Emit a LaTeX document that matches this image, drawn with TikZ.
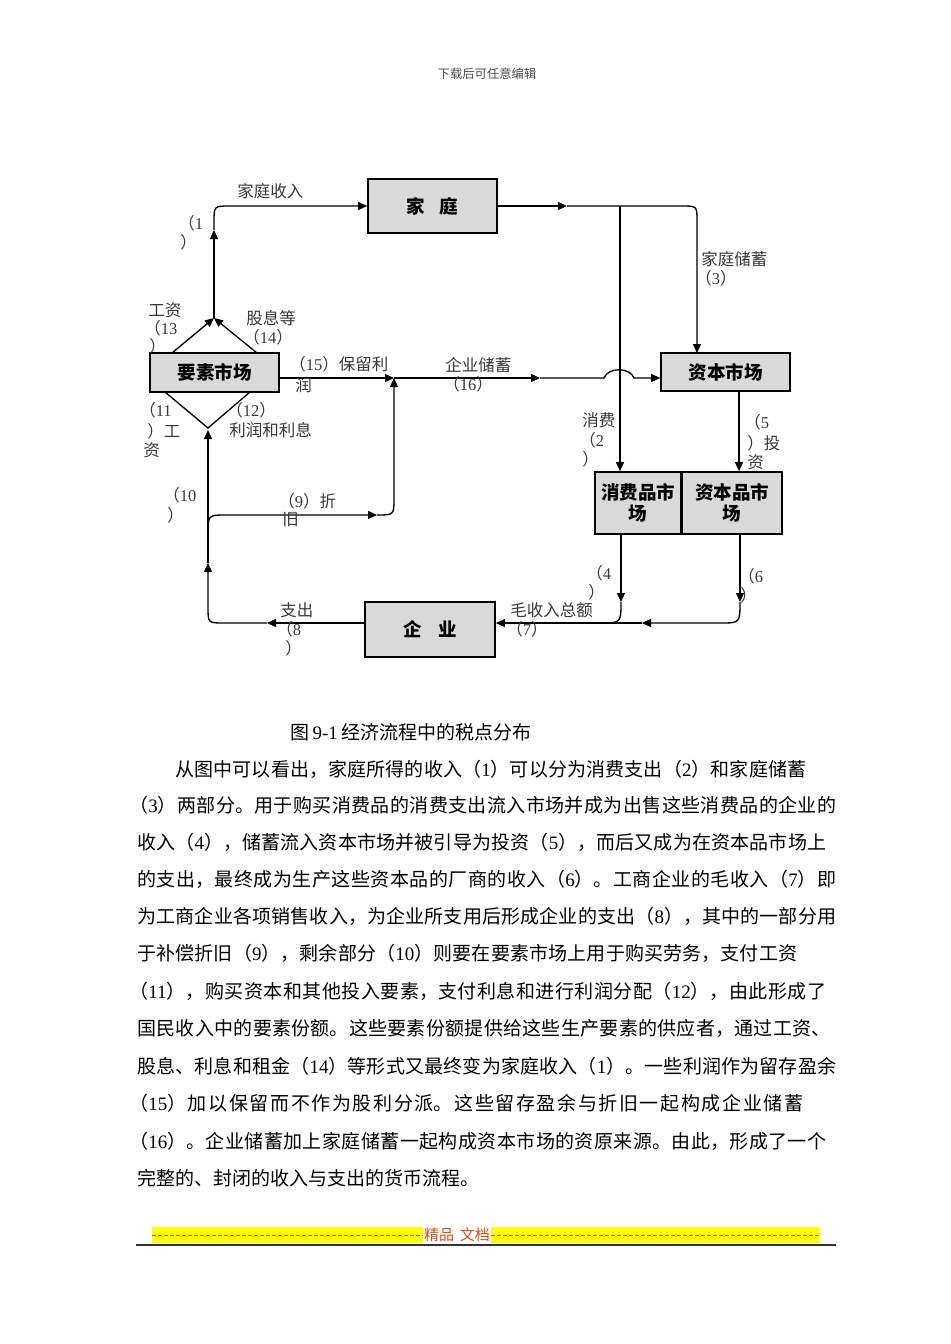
\documentclass[tikz,border=0pt]{standalone}
\usepackage{fontspec}
\setmainfont{Noto Sans CJK SC}
\newfontfamily\lat{Liberation Serif}
\usetikzlibrary{arrows.meta}
\definecolor{boxgray}{HTML}{D9D9D9}
\definecolor{lblgray}{HTML}{383838}
\definecolor{footred}{HTML}{E04A10}
\definecolor{footyel}{HTML}{FFFF00}
\newcommand\nm[1]{{\lat #1}}
\XeTeXlinebreaklocale "zh"
\XeTeXlinebreakskip=0pt plus 4pt minus 1pt
\newcommand\jline[2]{\parbox{#1}{\parfillskip=0pt\noindent #2}}
\begin{document}
\begin{tikzpicture}[x=0.6pt,y=-0.6pt,
  box/.style={draw=black,line width=1pt,fill=boxgray,inner sep=0pt,align=center,
    font=\fontsize{11.1}{12.8}\selectfont\bfseries},
  lbl/.style={anchor=west,inner sep=0pt,text=lblgray,font=\fontsize{9.9}{11}\selectfont},
  ln/.style={line width=0.8pt},
  arr/.style={ln,-{Triangle[length=5.4pt,width=4.8pt]}},
  body/.style={anchor=west,inner sep=0pt,font=\fontsize{11.4}{13}\selectfont}]
\useasboundingbox (0,0) rectangle (950,1344);

% header
\node[inner sep=0pt,text=black!70,font=\fontsize{7.4}{8}\selectfont] (hdr) at (487,74) {下载后可任意编辑};

% boxes
\node[box,minimum width=77.4pt,minimum height=32.4pt] (jt) at (432.5,206) {家\hspace{0.8em}庭};
\node[box,minimum width=77.4pt,minimum height=23.4pt] (ys) at (214.5,372.5) {要素市场};
\node[box,minimum width=77.4pt,minimum height=22.8pt] (zb) at (725.5,372) {资本市场};
\node[box,minimum width=51.6pt,minimum height=37.2pt] (xfp) at (638,503) {消费品市\\场};
\node[box,minimum width=60pt,minimum height=37.2pt] (zbp) at (732,503) {资本品市\\场};
\node[box,minimum width=78pt,minimum height=33pt] (qy) at (430,629.5) {企\hspace{0.9em}业};

% coordinates
\coordinate (s13) at (172,353);
\coordinate (s14) at (257,353);
\coordinate (m1) at (214,318);
\coordinate (a1) at (214,230);
\coordinate (a2) at (567,206);
\coordinate (t3) at (697,353);
\coordinate (j2) at (620,206);
\coordinate (a15) at (394,378);
\coordinate (a16) at (540,378);
\coordinate (s5) at (739,0);
\coordinate (a4) at (621,602);
\coordinate (a6) at (740,602);
\coordinate (a7) at (642,623);
\coordinate (a8) at (267,623);
\coordinate (a10) at (208,563);
\coordinate (a12) at (208,430);
\coordinate (dv) at (208,428);
\coordinate (d11) at (165,392);
\coordinate (d12) at (250,392);
\coordinate (j9) at (208,535);
\coordinate (a9) at (377,515);

% (13),(14) -> (1) -> household
\draw[arr] (s13) -- (m1);
\draw[arr] (s14) -- (m1);
\draw[arr] (m1) -- (a1);
\draw[arr] (a1) -- (214,222) .. controls (214,206) .. (230,206) -- (jt.west);

% household -> split
\draw[arr] (jt.east) -- (a2);
\draw[arr] (a2) -- (682,206) .. controls (697,206) .. (697,221) -- (t3);
\draw[arr] (j2) -- (xfp.north -| j2);

% (15) retained profit and (16) enterprise saving
\draw[arr] (ys.east |- a15) -- (a15);
\draw[arr] (a15) -- (a16);
\draw[arr] (a16) -- (604,378) .. controls (608,367) and (630,367) .. (634,378) -- (zb.west |- a16);

% (5) investment
\draw[arr] (zb.south -| s5) -- (zbp.north -| s5);

% (4), (6), (7)
\draw[arr] (xfp.south -| a4) -- (a4);
\draw[ln] (a4) .. controls (621,623) .. (600,623);
\draw[arr] (zbp.south -| a6) -- (a6);
\draw[arr] (a6) .. controls (740,623) .. (720,623) -- (a7);
\draw[arr] (a7) -- (qy.east |- a7);

% (8), (10)
\draw[arr] (qy.west |- a8) -- (a8);
\draw[arr] (a8) -- (224,623) .. controls (208,623) .. (208,607) -- (a10);
\draw[arr] (a10) -- (a12);
\draw[ln] (d11) -- (dv) -- (d12);

% (9) depreciation
\draw[arr] (j9) .. controls (208,515) .. (226,515) -- (a9);
\draw[arr] (a9) .. controls (394,515) .. (394,498) -- (a15);

% labels
\node[lbl] (l1a) at (237,191) {家庭收入};
\node[lbl] (l1b) at (178,223) {（\nm{1}};
\node[lbl] (l1c) at (180,242) {）};
\node[lbl] (l13a) at (148,310) {工资};
\node[lbl] (l13b) at (144,328) {（\nm{13}};
\node[lbl] (l13c) at (149,346) {）};
\node[lbl] (l14a) at (246,318) {股息等};
\node[lbl] (l14b) at (243,337) {（\nm{14}）};
\node[lbl] (l15a) at (289,364) {（\nm{15}）保留利};
\node[lbl] (l15b) at (295,385) {润};
\node[lbl] (l16a) at (445,365) {企业储蓄};
\node[lbl] (l16b) at (443,384) {（\nm{16}）};
\node[lbl] (l11a) at (139,410) {（\nm{11}};
\node[lbl] (l11b) at (147,431) {）工};
\node[lbl] (l11c) at (143,450) {资};
\node[lbl] (l12a) at (226,410) {（\nm{12}）};
\node[lbl] (l12b) at (229,430) {利润和利息};
\node[lbl] (l10a) at (163,495) {（\nm{10}};
\node[lbl] (l10b) at (167,515) {）};
\node[lbl] (l9a) at (278,501) {（\nm{9}）折};
\node[lbl] (l9b) at (282,520) {旧};
\node[lbl] (l3a) at (701,259) {家庭储蓄};
\node[lbl] (l3b) at (695,278) {（\nm{3}）};
\node[lbl] (l2a) at (582,420) {消费};
\node[lbl] (l2b) at (579,440) {（\nm{2}};
\node[lbl] (l2c) at (582,459) {）};
\node[lbl] (l5a) at (744,422) {（\nm{5}};
\node[lbl] (l5b) at (747,443) {）投};
\node[lbl] (l5c) at (747,462) {资};
\node[lbl] (l4a) at (586,573) {（\nm{4}};
\node[lbl] (l4b) at (588,592) {）};
\node[lbl] (l6a) at (738,576) {（\nm{6}};
\node[lbl] (l6b) at (740,595) {）};
\node[lbl] (l8a) at (280,610) {支出};
\node[lbl] (l8b) at (276,629) {（\nm{8}};
\node[lbl] (l8c) at (285,648) {）};
\node[lbl] (l7a) at (510,610) {毛收入总额};
\node[lbl] (l7b) at (506,629) {（\nm{7}）};

% caption
\node[body] (cap) at (290,732) {图\kern2pt\nm{9-1}\kern2pt经济流程中的税点分布};

% body text
\node[body] (b1) at (175,769) {\jline{378.6pt}{从图中可以看出，家庭所得的收入（\nm{1}）可以分为消费支出（\nm{2}）和家庭储蓄}};
\node[body] (b2) at (129,805) {\jline{424.2pt}{（\nm{3}）两部分。用于购买消费品的消费支出流入市场并成为出售这些消费品的企业的}};
\node[body] (b3) at (137,842) {\jline{413.4pt}{收入（\nm{4}），储蓄流入资本市场并被引导为投资（\nm{5}），而后又成为在资本品市场上}};
\node[body] (b4) at (137,879) {\jline{419.4pt}{的支出，最终成为生产这些资本品的厂商的收入（\nm{6}）。工商企业的毛收入（\nm{7}）即}};
\node[body] (b5) at (137,916) {\jline{419.4pt}{为工商企业各项销售收入，为企业所支用后形成企业的支出（\nm{8}），其中的一部分用}};
\node[body] (b6) at (137,953) {\jline{396pt}{于补偿折旧（\nm{9}），剩余部分（\nm{10}）则要在要素市场上用于购买劳务，支付工资}};
\node[body] (b7) at (129,991) {\jline{418.2pt}{（\nm{11}），购买资本和其他投入要素，支付利息和进行利润分配（\nm{12}），由此形成了}};
\node[body] (b8) at (137,1028) {\jline{415.8pt}{国民收入中的要素份额。这些要素份额提供给这些生产要素的供应者，通过工资、}};
\node[body] (b9) at (137,1066) {\jline{419.4pt}{股息、利息和租金（\nm{14}）等形式又最终变为家庭收入（\nm{1}）。一些利润作为留存盈余}};
\node[body] (b10) at (129,1103) {\jline{404.4pt}{（\nm{15}）加以保留而不作为股利分派。这些留存盈余与折旧一起构成企业储蓄}};
\node[body] (b11) at (129,1141) {\jline{418.2pt}{（\nm{16}）。企业储蓄加上家庭储蓄一起构成资本市场的资原来源。由此，形成了一个}};
\node[body] (b12) at (137,1178) {完整的、封闭的收入与支出的货币流程。};

% footer
\fill[footyel] (152,1227) rectangle (423,1243);
\fill[footyel] (491,1227) rectangle (820,1243);
\draw[footred,line width=0.6pt,dash pattern=on 2.4pt off 1.2pt] (152,1235) -- (423,1235);
\draw[footred,line width=0.6pt,dash pattern=on 2.4pt off 1.2pt] (491,1235) -- (820,1235);
\node[inner sep=0pt,text=footred,font=\fontsize{9}{10}\selectfont] (ft) at (457,1235) {精品\hspace{0.4em}文档};
\draw[line width=1pt,black!80] (136,1245) -- (836,1245);
\end{tikzpicture}
\end{document}
